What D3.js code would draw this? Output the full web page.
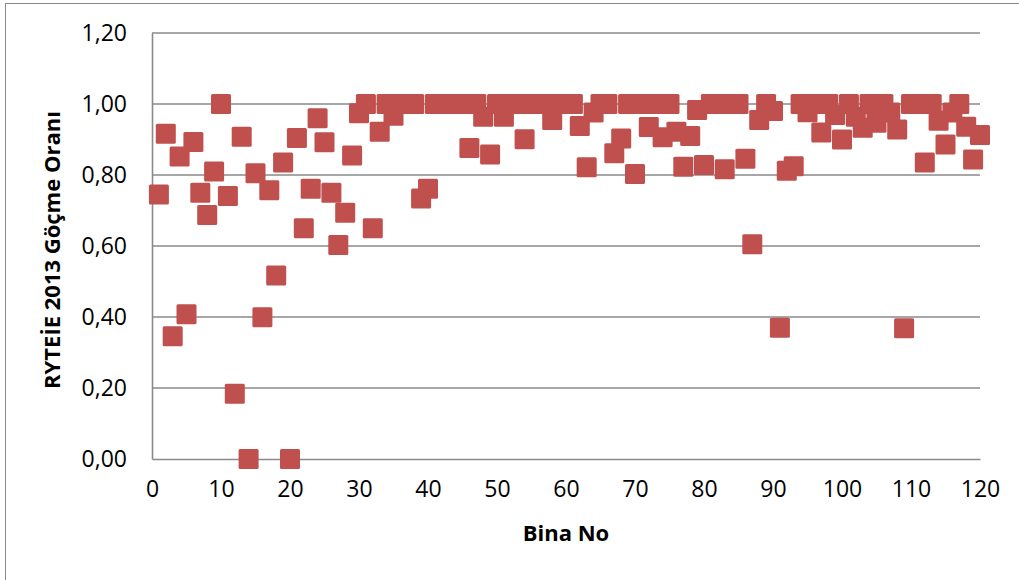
<!DOCTYPE html>
<meta charset="utf-8">
<style>
body { margin: 0; background: #fff; }
text { font-family: "Open Sans", "Noto Sans", sans-serif; fill: #000; }
.grid line { stroke: #8a8a8a; stroke-width: 1.4px; }
.axis path, .axis line { stroke: #8a8a8a; stroke-width: 1.6px; }
.points rect { fill: #c0504d; }
</style>
<svg width="1019" height="580"></svg>
<script src="https://d3js.org/d3.v7.min.js"></script>
<script>

// building numbers (x) and collapse ratios (y)
var binaNo = [
  1, 2, 3, 4, 5, 6, 7, 8, 9, 10, 11, 12, 13, 14, 15, 16, 17, 18, 19, 20,
  21, 22, 23, 24, 25, 26, 27, 28, 29, 30, 31, 32, 33, 34, 35, 36, 37, 38, 39, 40,
  41, 42, 43, 44, 45, 46, 47, 48, 49, 50, 51, 52, 53, 54, 55, 56, 57, 58, 59, 60,
  61, 62, 63, 64, 65, 66, 67, 68, 69, 70, 71, 72, 73, 74, 75, 76, 77, 78, 79, 80,
  81, 82, 83, 84, 85, 86, 87, 88, 89, 90, 91, 92, 93, 94, 95, 96, 97, 98, 99, 100,
  101, 102, 103, 104, 105, 106, 107, 108, 109, 110, 111, 112, 113, 114, 115, 116, 117, 118, 119, 120
];
var gocmeOrani = [
  0.745, 0.916, 0.346, 0.852, 0.408, 0.893, 0.750, 0.687, 0.810, 1.000,
  0.741, 0.184, 0.908, 0.000, 0.805, 0.399, 0.757, 0.517, 0.835, 0.000,
  0.904, 0.650, 0.761, 0.960, 0.892, 0.750, 0.603, 0.694, 0.855, 0.974,
  1.000, 0.650, 0.922, 1.000, 0.967, 1.000, 1.000, 1.000, 0.734, 0.761,
  1.000, 1.000, 1.000, 1.000, 1.000, 0.876, 1.000, 0.964, 0.858, 1.000,
  0.964, 1.000, 1.000, 0.901, 1.000, 1.000, 1.000, 0.955, 1.000, 1.000,
  1.000, 0.938, 0.822, 0.976, 1.000, 1.000, 0.861, 0.903, 1.000, 0.803,
  1.000, 0.935, 1.000, 0.906, 1.000, 0.922, 0.823, 0.910, 0.983, 0.828,
  1.000, 1.000, 0.816, 1.000, 1.000, 0.846, 0.605, 0.955, 1.000, 0.980,
  0.370, 0.812, 0.825, 1.000, 0.977, 1.000, 0.920, 1.000, 0.969, 0.900,
  1.000, 0.964, 0.933, 1.000, 0.947, 1.000, 0.976, 0.928, 0.368, 1.000,
  1.000, 0.835, 1.000, 0.953, 0.886, 0.976, 1.000, 0.936, 0.844, 0.913
];
var xTicks = [0, 10, 20, 30, 40, 50, 60, 70, 80, 90, 100, 110, 120];
var yTicks = [0, 0.2, 0.4, 0.6, 0.8, 1.0, 1.2];
var xTitle = "Bina No";
var yTitle = "RYTEİE 2013 Göçme Oranı";

var svg = d3.select("svg");
var plotLeft = 152, plotRight = 980, plotTop = 33, plotBottom = 459;

var trLocale = d3.formatLocale({ decimal: ",", thousands: ".", grouping: [3], currency: ["", " ₺"] });
var fmt = trLocale.format(".2f");

var x = d3.scaleLinear().domain([0, 120]).range([plotLeft, plotRight]);
var y = d3.scaleLinear().domain([0, 1.2]).range([plotBottom, plotTop]);

// outer chart frame (runs off the right and bottom edges)
svg.append("rect")
    .attr("x", 5.5).attr("y", 3.5)
    .attr("width", 1040).attr("height", 620)
    .attr("fill", "none")
    .attr("stroke", "#8a8a8a")
    .attr("stroke-width", 1);

// horizontal gridlines
svg.append("g")
    .attr("class", "grid")
    .selectAll("line")
    .data(yTicks.filter(function(d) { return d > 0; }))
    .enter().append("line")
      .attr("x1", plotLeft).attr("x2", plotRight)
      .attr("y1", function(d) { return y(d); })
      .attr("y2", function(d) { return y(d); });

// axes
svg.append("g")
    .attr("class", "axis")
    .attr("transform", "translate(0," + plotBottom + ")")
    .call(d3.axisBottom(x).tickValues(xTicks).tickSize(0).tickPadding(22));
svg.append("g")
    .attr("class", "axis")
    .attr("transform", "translate(" + plotLeft + ",0)")
    .call(d3.axisLeft(y).tickValues(yTicks).tickSize(0).tickPadding(25).tickFormat(fmt));

svg.selectAll(".axis text")
    .attr("font-family", "'Open Sans', sans-serif")
    .attr("font-size", 23)
    .attr("fill", "#000");
svg.selectAll(".axis .domain").attr("stroke", "#8a8a8a");

// markers
var size = 20;
svg.append("g")
    .attr("class", "points")
    .selectAll("rect")
    .data(gocmeOrani)
    .enter().append("rect")
      .attr("x", function(d, i) { return x(binaNo[i]) - size / 2; })
      .attr("y", function(d) { return y(d) - size / 2; })
      .attr("width", size)
      .attr("height", size)
      .attr("rx", 1.5);

// axis titles
svg.append("text")
    .attr("x", (plotLeft + plotRight) / 2)
    .attr("y", 541)
    .attr("text-anchor", "middle")
    .attr("font-size", 22)
    .attr("font-weight", "bold")
    .text(xTitle);

svg.append("text")
    .attr("transform", "translate(60,250) rotate(-90)")
    .attr("text-anchor", "middle")
    .attr("font-size", 22)
    .attr("font-weight", "bold")
    .text(yTitle);

</script>
